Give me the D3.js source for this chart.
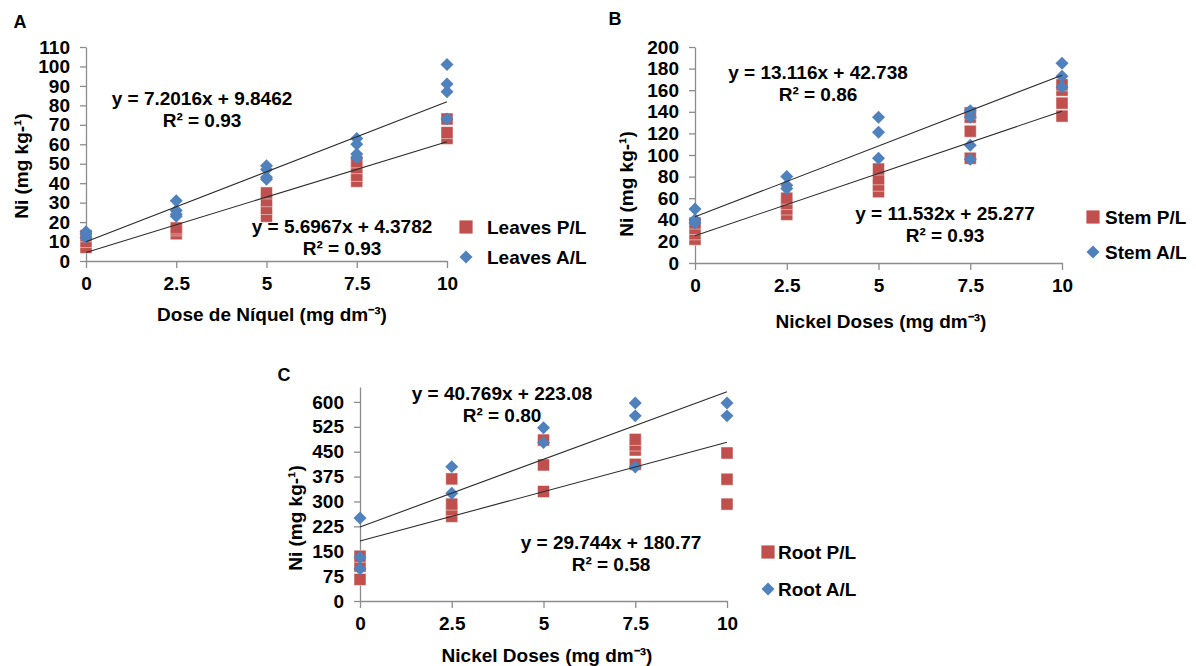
<!DOCTYPE html>
<meta charset="utf-8">
<style>
  body { margin: 0; background: #fff; }
  text { font-family: "Liberation Sans", Arial, sans-serif; font-weight: bold; fill: #000; }
  .axis path, .axis line { stroke: #8c8c8c; stroke-width: 1.3px; }
  .axis text { font-size: 19px; }
</style>
<body>
<script src="https://d3js.org/d3.v7.min.js"></script>
<script>
  // Nickel doses on the x axis
  var doses = [0, 2.5, 5, 7.5, 10];

  // readings per dose (one inner array per dose)
  var leavesPL = [[7, 10, 13], [14, 16, 17], [23, 27, 31, 35], [41, 44, 48, 51], [63, 66, 73]];
  var leavesAL = [[12, 14, 15], [23, 24, 26, 31], [42, 43, 47, 49], [53, 55, 60, 63], [73, 87, 91, 101]];
  var stemPL = [[22, 27, 32, 37], [45, 50, 55, 60], [66, 72, 78, 87], [97, 122, 135, 139], [136, 148, 160, 165]];
  var stemAL = [[37, 40, 50], [69, 72, 80], [97, 121, 135], [96, 109, 135, 141], [163, 173, 185]];
  var rootPL = [[65, 105, 135], [255, 275, 292, 368], [330, 410, 485], [412, 455, 470, 487], [292, 367, 446]];
  var rootAL = [[97, 132, 250], [325, 405], [478, 522], [404, 558, 597], [558, 597]];

  // linear trends [slope, intercept]
  var leavesTrend = [[5.6967, 4.3782], [7.2016, 9.8462]];
  var stemTrend = [[11.532, 25.277], [13.116, 42.738]];
  var rootTrend = [[29.744, 180.77], [40.769, 223.08]];

  var leavesEq = [["y = 5.6967x + 4.3782", "R² = 0.93"], ["y = 7.2016x + 9.8462", "R² = 0.93"]];
  var stemEq = [["y = 11.532x + 25.277", "R² = 0.93"], ["y = 13.116x + 42.738", "R² = 0.86"]];
  var rootEq = [["y = 29.744x + 180.77", "R² = 0.58"], ["y = 40.769x + 223.08", "R² = 0.80"]];

  var leavesTicks = d3.range(0, 111, 10);
  var stemTicks = d3.range(0, 201, 20);
  var rootTicks = d3.range(0, 601, 75);

  var red = "#c0504d", blue = "#4f81bd";

  var svg = d3.select("body").append("svg")
      .attr("width", 1196)
      .attr("height", 666);

  var square = d3.symbol().type(d3.symbolSquare).size(144);
  var diamond = d3.symbol().type(d3.symbolSquare).size(84);

  function flat(vals) {
    var out = [];
    vals.forEach(function(list, i) {
      list.forEach(function(v) { out.push([doses[i], v]); });
    });
    return out;
  }

  function panel(p) {
    var g = svg.append("g");
    var x = d3.scaleLinear().domain([0, 10]).range(p.xr);
    var y = d3.scaleLinear().domain([0, p.ymax]).range(p.yr);

    g.append("g").attr("class", "axis")
      .attr("transform", "translate(0," + y(0) + ")")
      .call(d3.axisBottom(x).tickValues(doses).tickSize(7).tickPadding(9).tickSizeOuter(0).tickFormat(d3.format("")));

    g.append("g").attr("class", "axis")
      .attr("transform", "translate(" + x(0) + ",0)")
      .call(d3.axisLeft(y).tickValues(p.ticks).tickSize(6).tickPadding(10).tickSizeOuter(0));

    g.selectAll(".axis .domain").attr("fill", "none");

    // P/L squares then A/L diamonds
    g.selectAll(".sq").data(flat(p.pl)).enter().append("path")
      .attr("d", square)
      .attr("transform", function(d) { return "translate(" + x(d[0]) + "," + y(d[1]) + ")"; })
      .attr("fill", red)
      .attr("stroke", "rgba(255,255,255,0.6)")
      .attr("stroke-width", 0.8);

    g.selectAll(".dm").data(flat(p.al)).enter().append("path")
      .attr("d", diamond)
      .attr("transform", function(d) { return "translate(" + x(d[0]) + "," + y(d[1]) + ") rotate(45)"; })
      .attr("fill", blue);

    // trendlines
    p.trend.forEach(function(t) {
      g.append("line")
        .attr("x1", x(0)).attr("y1", y(t[1]))
        .attr("x2", x(10)).attr("y2", y(t[0] * 10 + t[1]))
        .attr("stroke", "#2b2b2b")
        .attr("stroke-width", 1.1);
    });

    // equation labels
    p.eq.forEach(function(lines, i) {
      var pos = p.eqPos[i];
      lines.forEach(function(s, j) {
        g.append("text")
          .attr("x", pos[0]).attr("y", pos[1] + j * 22)
          .attr("text-anchor", "middle")
          .attr("dy", "0.35em")
          .style("font-size", "19px")
          .text(s);
      });
    });

    // legend
    var lg = g.append("g");
    lg.append("path").attr("d", square)
      .attr("transform", "translate(" + p.leg[0] + "," + p.leg[1] + ") scale(1.1)")
      .attr("fill", red);
    lg.append("path").attr("d", diamond)
      .attr("transform", "translate(" + p.leg[0] + "," + (p.leg[1] + p.leg[3]) + ") rotate(45)")
      .attr("fill", blue);
    [p.name + " P/L", p.name + " A/L"].forEach(function(s, i) {
      lg.append("text")
        .attr("x", p.leg[0] + p.leg[2]).attr("y", p.leg[1] + i * p.leg[3])
        .attr("dy", "0.35em")
        .style("font-size", "19px")
        .text(s);
    });

    // titles
    g.append("text")
      .attr("x", p.xt[0]).attr("y", p.xt[1])
      .attr("text-anchor", "middle").attr("dy", "0.35em")
      .style("font-size", "19px")
      .text(p.xtitle);

    g.append("text")
      .attr("transform", "translate(" + p.yt[0] + "," + p.yt[1] + ") rotate(-90)")
      .attr("text-anchor", "middle").attr("dy", "0.35em")
      .style("font-size", "19px")
      .text("Ni (mg kg-¹)");

    g.append("text")
      .attr("x", p.letter[0]).attr("y", p.letter[1])
      .attr("text-anchor", "middle").attr("dy", "0.35em")
      .style("font-size", "18px")
      .text(p.label);
  }

  panel({
    label: "A", letter: [20, 22], name: "Leaves",
    xr: [86, 447], yr: [261, 47], ymax: 110, ticks: leavesTicks,
    pl: leavesPL, al: leavesAL, trend: leavesTrend, eq: leavesEq,
    eqPos: [[342, 226], [202, 98]],
    leg: [466, 227, 21, 30],
    xtitle: "Dose de Níquel (mg dm⁻³)", xt: [272, 314], yt: [21, 166]
  });

  panel({
    label: "B", letter: [615, 19], name: "Stem",
    xr: [695, 1062], yr: [263, 47], ymax: 200, ticks: stemTicks,
    pl: stemPL, al: stemAL, trend: stemTrend, eq: stemEq,
    eqPos: [[945, 213], [818, 72]],
    leg: [1093, 217, 12, 35],
    xtitle: "Nickel Doses (mg dm⁻³)", xt: [881, 321], yt: [626, 184]
  });

  panel({
    label: "C", letter: [284, 375], name: "Root",
    xr: [360, 727], yr: [601, 387], ymax: 645, ticks: rootTicks,
    pl: rootPL, al: rootAL, trend: rootTrend, eq: rootEq,
    eqPos: [[611, 542], [502, 393]],
    leg: [768, 552, 10, 37],
    xtitle: "Nickel Doses (mg dm⁻³)", xt: [547, 655], yt: [295, 518]
  });
</script>
</body>
</html>
